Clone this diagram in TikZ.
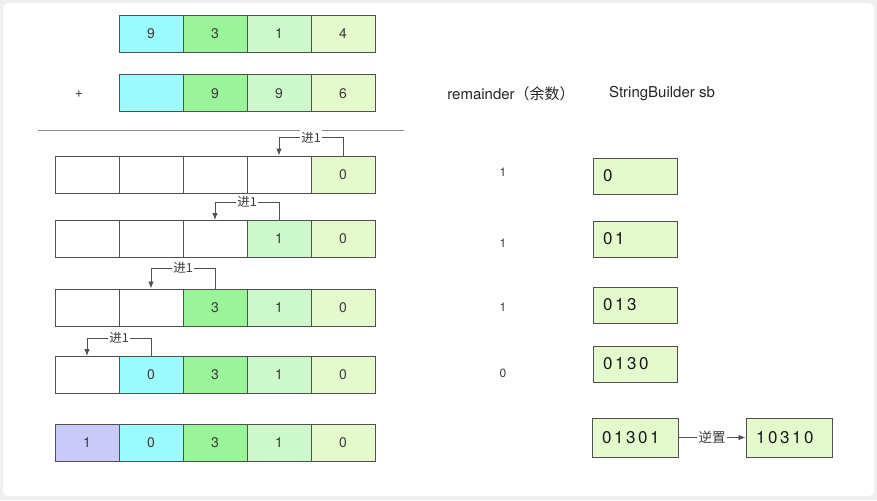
\documentclass[tikz,border=0pt]{standalone}
\usepackage{fontspec}
\setmainfont{TeX Gyre Heros}
\newfontfamily\cjk{Noto Sans CJK SC}
\usetikzlibrary{arrows.meta}
\definecolor{cCyan}{HTML}{9CFBFF}
\definecolor{cGreen}{HTML}{9AF59A}
\definecolor{cLight}{HTML}{CCF8CC}
\definecolor{cPale}{HTML}{E4FACC}
\definecolor{cPurple}{HTML}{CACAFA}
\definecolor{edge}{HTML}{505050}
\definecolor{txt}{HTML}{3A3A3A}
\definecolor{framegray}{HTML}{EFEFEF}
\newcommand{\dg}{\hspace{2.6pt}}
\begin{document}
\begin{tikzpicture}[x=1pt,y=-1pt,
  cell/.style={draw=edge, line width=1pt, minimum width=64pt, minimum height=37pt, inner sep=0pt, text=txt, font=\fontsize{14}{16}\selectfont},
  sbbox/.style={draw=edge, line width=1pt, fill=cPale, minimum width=84pt, minimum height=36pt, text width=64pt, inner xsep=10pt, inner ysep=0pt, align=left, text=black!90, font=\fontsize{17}{19}\selectfont},
  carry/.style={draw=edge, line width=0.9pt, -{Latex[length=7pt,width=5.5pt]}},
  carrylbl/.style={fill=white, inner sep=1.5pt, text=txt, font=\cjk\fontsize{12.5}{14}\selectfont},
  hdr/.style={text=black!85, font=\fontsize{15}{17}\selectfont},
  rem/.style={text=txt, font=\fontsize{12}{14}\selectfont}
]
\fill[framegray] (0,0) rectangle (877,500);
\fill[white, rounded corners=6pt] (3,3) rectangle (874,496);
\useasboundingbox (0,0) rectangle (877,500);

% top operand
\node[cell, fill=cCyan]  (a1) at (151,34) {9};
\node[cell, fill=cGreen] (a2) at (215,34) {3};
\node[cell, fill=cLight] (a3) at (279,34) {1};
\node[cell, fill=cPale]  (a4) at (343,34) {4};
% second operand
\node[text=txt, font=\fontsize{14}{16}\selectfont] (plus) at (79,94) {+};
\node[cell, fill=cCyan]  (b1) at (151,93.5) {};
\node[cell, fill=cGreen] (b2) at (215,93.5) {9};
\node[cell, fill=cLight] (b3) at (279,93.5) {9};
\node[cell, fill=cPale]  (b4) at (343,93.5) {6};
% rule
\coordinate (ruleL) at (38,130);
\coordinate (ruleR) at (404,130);
\draw[black!45, line width=1pt] (ruleL) -- (ruleR);

% row 1
\node[cell, fill=white] (r1c0) at (87,174.5) {};
\node[cell, fill=white] (r1c1) at (151,174.5) {};
\node[cell, fill=white] (r1c2) at (215,174.5) {};
\node[cell, fill=white] (r1c3) at (279,174.5) {};
\node[cell, fill=cPale] (r1c4) at (343,174.5) {0};
% row 2
\node[cell, fill=white] (r2c0) at (87,239) {};
\node[cell, fill=white] (r2c1) at (151,239) {};
\node[cell, fill=white] (r2c2) at (215,239) {};
\node[cell, fill=cLight] (r2c3) at (279,239) {1};
\node[cell, fill=cPale] (r2c4) at (343,239) {0};
% row 3
\node[cell, fill=white] (r3c0) at (87,307.5) {};
\node[cell, fill=white] (r3c1) at (151,307.5) {};
\node[cell, fill=cGreen] (r3c2) at (215,307.5) {3};
\node[cell, fill=cLight] (r3c3) at (279,307.5) {1};
\node[cell, fill=cPale] (r3c4) at (343,307.5) {0};
% row 4
\node[cell, fill=white] (r4c0) at (87,375) {};
\node[cell, fill=cCyan] (r4c1) at (151,375) {0};
\node[cell, fill=cGreen] (r4c2) at (215,375) {3};
\node[cell, fill=cLight] (r4c3) at (279,375) {1};
\node[cell, fill=cPale] (r4c4) at (343,375) {0};
% row 5
\node[cell, fill=cPurple] (r5c0) at (87,442.5) {1};
\node[cell, fill=cCyan] (r5c1) at (151,442.5) {0};
\node[cell, fill=cGreen] (r5c2) at (215,442.5) {3};
\node[cell, fill=cLight] (r5c3) at (279,442.5) {1};
\node[cell, fill=cPale] (r5c4) at (343,442.5) {0};

% carries
\draw[carry] (r1c4.north) -- ++(0,-18) -| node[carrylbl,pos=0.25]{进1} (r1c3.north);
\draw[carry] (r2c3.north) -- ++(0,-18) -| node[carrylbl,pos=0.25]{进1} (r2c2.north);
\draw[carry] (r3c2.north) -- ++(0,-20.5) -| node[carrylbl,pos=0.25]{进1} (r3c1.north);
\draw[carry] (r4c1.north) -- ++(0,-18) -| node[carrylbl,pos=0.25]{进1} (r4c0.north);

% headers
\node[hdr] (hrem) at (511,94) {remainder{\cjk（余数）}};
\node[hdr] (hsb) at (662,94) {StringBuilder sb};

% remainders
\node[rem] (m1) at (503,172) {1};
\node[rem] (m2) at (503,243) {1};
\node[rem] (m3) at (503,307) {1};
\node[rem] (m4) at (503,373) {0};

% string builder boxes
\node[sbbox] (s1) at (635,176) {0};
\node[sbbox] (s2) at (635,239) {0\dg 1};
\node[sbbox] (s3) at (635,305) {0\dg 1\dg 3};
\node[sbbox] (s4) at (635,364) {0\dg 1\dg 3\dg 0};
\node[sbbox, minimum height=39pt, minimum width=86pt, text width=66pt] (s5) at (635,437.5) {0\dg 1\dg 3\dg 0\dg 1};
\node[sbbox, minimum height=39pt, minimum width=86pt, text width=66pt] (s6) at (789,437.5) {1\dg 0\dg 3\dg 1\dg 0};
\draw[carry] (s5) -- node[carrylbl, font=\cjk\fontsize{13.5}{15}\selectfont]{逆置} (s6);
\end{tikzpicture}
\end{document}
